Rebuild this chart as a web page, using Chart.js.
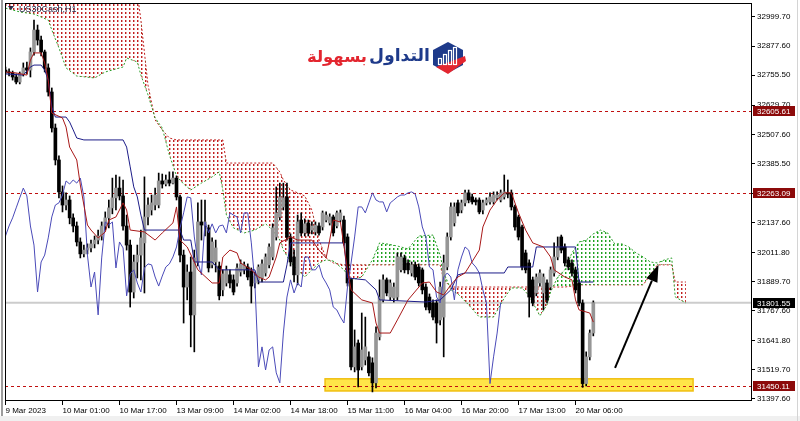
<!DOCTYPE html>
<html>
<head>
<meta charset="utf-8">
<script src="https://cdn.jsdelivr.net/npm/chart.js@4.4.1/dist/chart.umd.min.js"></script>
<style>
  html, body { margin: 0; padding: 0; background: #fff; }
  #wrap { width: 800px; height: 421px; position: relative; }
</style>
</head>
<body>
<div id="wrap"><canvas id="c" width="800" height="421"></canvas></div>
<script>
// ******************************************************** DATA  (US30Cash H1)

var barOpen = [
  32777,32769,32765,32748,32727,32761,32786,32777,32853,32945,
  32903,32853,32786,32685,32534,32400,32266,32211,32232,32157,
  32123,32056,32006,32022,32031,32048,32064,32081,32123,32157,
  32199,32241,32282,32249,32123,32043,31846,31972,32001,32052,
  32161,32190,32211,32211,32312,32299,32316,32303,32324,32245,
  32001,31867,31930,31750,31972,32140,32127,32115,31960,31972,
  31955,31855,31884,31918,31897,31884,31930,31939,31951,31934,
  31884,31897,31905,31926,31960,31993,32077,32161,32203,32245,
  32077,31993,31918,32148,32094,32136,32106,32098,32123,32119,
  32148,32136,32161,32123,32148,32148,32077,31897,31532,31632,
  31532,31561,31574,31549,31465,31658,31813,31897,31825,31821,
  31825,31939,31989,31968,31926,31960,31951,31939,31867,31825,
  31800,31800,31729,31741,31951,32077,32136,32220,32190,32220,
  32262,32245,32232,32232,32190,32220,32224,32224,32241,32232,
  32245,32262,32262,32203,32161,32119,32010,31968,31897,31842,
  31884,31842,31884,31867,31926,31993,32077,32035,31981,31968,
  31939,31884,31800,31462,31574,31674
];
var barHigh = [
  32790,32782,32773,32761,32769,32807,32811,32870,32987,32966,
  32920,32861,32803,32702,32551,32417,32291,32262,32249,32174,
  32140,32073,32043,32048,32064,32081,32106,32140,32182,32232,
  32324,32337,32329,32316,32169,32064,32001,32043,32106,32329,
  32241,32253,32282,32345,32341,32337,32350,32350,32333,32253,
  32022,31960,31993,32022,32220,32232,32232,32127,32073,32064,
  31972,31939,31955,31939,31918,31964,31981,31972,31964,31947,
  31930,31960,31981,32006,32048,32132,32287,32303,32303,32303,
  32090,32022,32169,32178,32153,32148,32140,32140,32136,32186,
  32182,32174,32169,32186,32190,32165,32090,31905,31687,31645,
  31758,31741,31595,31570,31700,31897,31918,31905,31897,31884,
  32010,32010,32001,31981,31972,31972,31964,31947,31880,31838,
  31813,31813,31888,32001,32094,32220,32220,32232,32232,32274,
  32274,32257,32241,32241,32232,32241,32262,32266,32266,32274,
  32337,32316,32274,32211,32169,32127,32022,31981,31909,31922,
  31939,31922,31897,31951,32052,32077,32085,32048,31993,31981,
  31951,31897,31813,31595,31687,31809
];
var barLow = [
  32761,32752,32735,32719,32719,32752,32761,32748,32840,32882,
  32836,32769,32668,32517,32379,32241,32182,32190,32132,32098,
  32039,31989,31993,32006,32014,32031,32048,32064,32106,32115,
  32174,32190,32232,32106,32022,31783,31821,31905,31897,31842,
  32127,32169,32190,32199,32282,32291,32291,32299,32232,31972,
  31716,31813,31616,31595,31955,32064,32081,31930,31947,31930,
  31813,31830,31871,31863,31834,31871,31913,31922,31897,31800,
  31863,31880,31888,31913,31947,31981,32064,32148,32190,32064,
  31955,31888,31876,32081,32081,32081,32090,32085,32085,32106,
  32140,32127,32081,32115,32140,32043,31871,31519,31511,31448,
  31519,31540,31494,31427,31444,31645,31804,31830,31813,31804,
  31813,31930,31926,31922,31913,31897,31871,31838,31771,31758,
  31729,31632,31708,31574,31939,32064,32123,32165,32178,32207,
  32220,32215,32211,32174,32174,32211,32215,32215,32232,32224,
  32236,32241,32190,32106,32064,31939,31926,31741,31788,31830,
  31871,31771,31800,31855,31913,31981,32010,31955,31939,31913,
  31842,31788,31446,31452,31561,31662
];
var barClose = [
  32769,32765,32748,32727,32761,32786,32777,32853,32945,32903,
  32853,32786,32685,32534,32400,32266,32211,32232,32157,32123,
  32056,32006,32022,32031,32048,32064,32081,32123,32157,32199,
  32241,32282,32249,32123,32043,31846,31972,32001,32073,32161,
  32211,32220,32253,32312,32299,32316,32303,32324,32245,32001,
  31867,31930,31750,31989,32140,32127,32140,31947,32056,32031,
  31830,31922,31939,31884,31846,31947,31964,31960,31909,31871,
  31913,31951,31964,31993,32035,32115,32178,32245,32241,32077,
  31972,31918,32140,32094,32132,32094,32123,32127,32094,32178,
  32169,32161,32094,32178,32178,32052,31884,31532,31616,31519,
  31603,31616,31507,31465,31674,31825,31897,31842,31884,31867,
  31993,31993,31939,31939,31960,31909,31884,31855,31783,31771,
  31741,31716,31867,31968,32077,32203,32203,32178,32220,32262,
  32232,32224,32224,32182,32220,32232,32245,32253,32253,32262,
  32266,32257,32203,32119,32077,31951,31939,31825,31800,31909,
  31926,31909,31813,31939,31993,32035,32022,31968,31951,31926,
  31855,31800,31462,31574,31674,31801.55
];

// Ichimoku lines: [bar index, price]
var tenkan = [
  [0,32769],[3,32765],[6,32756],[7,32819],[8,32849],[10,32849],[11,32807],[12,32735],[13,32597],
  [16,32576],[17,32538],[18,32454],[20,32400],[21,32295],[22,32211],[23,32127],[24,32106],
  [26,32073],[28,32098],[29,32148],[31,32161],[33,32220],[34,32190],[35,32106],[39,32098],
  [42,32064],[44,32094],[47,32136],[48,32203],[49,32064],[51,32035],[53,31972],[54,31939],
  [58,31884],[60,31884],[61,31993],[63,32022],[65,32010],[66,31968],[69,31939],[71,31909],
  [73,31897],[74,31909],[76,31993],[77,32052],[80,32077],[82,32064],[86,32064],[88,32022],
  [90,31989],[91,32064],[92,32148],[94,32140],[96,31939],[97,31855],[100,31813],[103,31800],
  [104,31716],[105,31674],[108,31674],[110,31729],[113,31813],[117,31884],[119,31888],
  [121,31846],[123,31834],[125,31876],[127,31909],[129,31926],[133,32022],[134,32119],
  [136,32190],[138,32232],[140,32262],[142,32262],[144,32178],[146,32106],[148,32052],
  [151,32035],[153,31993],[154,31939],[157,31909],[159,31897],[160,31813],[161,31771],
  [164,31758],[165,31720]
];
var kijun = [
  [0,32761],[5,32756],[7,32790],[8,32798],[10,32798],[11,32777],[12,32735],[13,32622],
  [14,32580],[17,32580],[18,32559],[19,32526],[20,32492],[22,32484],[33,32484],[34,32454],
  [35,32371],[36,32287],[37,32245],[38,32169],[39,32106],[49,32106],[50,32064],[52,32064],
  [53,31972],[58,31972],[60,31939],[70,31939],[71,31888],[78,31888],[79,31960],[80,32052],
  [95,32052],[96,31905],[101,31897],[104,31855],[105,31813],[118,31804],[122,31813],
  [125,31855],[127,31918],[129,31926],[140,31926],[141,31951],[148,31951],[149,32035],
  [160,32035],[161,31888],[165,31888]
];
var chikouShift = 26;

var cloudIdx = [
  0,4,8,12,13,15,17,20,25,28, 33,34,37,38,40,42,44,46,48,50,
  52,55,58,60,61,62,64,67,70,73, 75,77,78,80,82,84,86,88,90,92,
  95,97,100,103,105,107,110,113,116,120, 122,123,125,127,130,133,137,140,142,145,
  147,150,152,153,155,157,159,161,163,165, 167,169,171,173,175,177,179,181,183,185,
  187,188,191
];
var senkouA = [
  33037,33021,33012,32987,32945,32870,32786,32752,32744,32769,
  32790,32828,32811,32756,32673,32576,32534,32421,32333,32299,
  32274,32303,32329,32350,32274,32169,32115,32094,32106,32132,
  32106,32064,32022,31972,31939,31909,31939,31968,31981,31976,
  31939,31897,31909,31981,32052,32048,32039,32027,32081,32085,
  32001,31930,31855,31838,31792,31741,31741,31821,31863,31863,
  31830,31746,31792,31846,31909,31939,32010,32056,32064,32090,
  32106,32094,32048,32048,32035,32010,31993,31972,31968,31981,
  31989,31825,31800
];
var senkouB = [
  33100,33100,33100,33100,33100,33100,33100,33100,33100,33100,
  33100,33100,33100,32987,32714,32568,32526,32492,32484,32484,
  32484,32484,32484,32484,32484,32387,32387,32387,32387,32387,
  32387,32350,32316,32274,32262,32249,32190,32064,31989,31968,
  31960,31960,31960,31960,31960,31960,31960,31960,31960,31960,
  31960,31897,31867,31867,31867,31867,31867,31867,31867,31867,
  31867,31867,31867,31867,31867,31867,31871,31876,31876,31876,
  31876,31876,31876,31876,31876,31876,31876,31918,31960,31960,
  31960,31888,31888
];

var xTickIdx = [0,16,32,48,64,80,96,112,128,144,160];
var xTickLabels = ['9 Mar 2023','10 Mar 01:00','10 Mar 17:00','13 Mar 09:00','14 Mar 02:00',
  '14 Mar 18:00','15 Mar 11:00','16 Mar 04:00','16 Mar 20:00','17 Mar 13:00','20 Mar 06:00'];
var yTicks = [32999.70,32877.60,32755.50,32629.70,32507.60,32385.50,32259.70,32137.60,
  32011.80,31889.70,31767.60,31641.80,31519.70,31397.60];

var levelPrices = [32605.61, 32263.09, 31450.11];
var lastPrice = 31801.55;
var zone = [89.7, 193.0, 31431, 31482];          // from bar, to bar, low, high
var arrowFrom = [171.1, 31528], arrowTo = [183.3, 31960];

// ******************************************************** CHART

Chart.defaults.font.family = '"Liberation Sans", Arial, sans-serif';

var canvas = document.getElementById('c');
var ctx = canvas.getContext('2d');

// MT4-like dotted hatch for the cloud
function hatch(color, soft) {
  var p = document.createElement('canvas');
  p.width = 4; p.height = 4;
  var g = p.getContext('2d');
  g.fillStyle = color;
  g.fillRect(1, 0, 1, 2);
  g.fillStyle = soft;
  g.fillRect(2, 0, 1, 2);
  return ctx.createPattern(p, 'repeat');
}
function pts(pairs) { return pairs.map(function (p) { return { x: p[0], y: p[1] }; }); }

var wickData = barHigh.map(function (h, i) { return { x: i, y: [barLow[i], h] }; });
var bodyData = barOpen.map(function (o, i) { return { x: i, y: [o, barClose[i]] }; });
var bodyColors = barOpen.map(function (o, i) { return barClose[i] >= o ? '#969696' : '#000000'; });
var chikouData = barClose.slice(chikouShift).map(function (c, k) { return { x: k, y: c }; });
var spanA = cloudIdx.map(function (x, i) { return { x: x, y: senkouA[i] }; });
var spanB = cloudIdx.map(function (x, i) { return { x: x, y: senkouB[i] }; });

var overlay = {
  id: 'overlay',
  beforeDatasetsDraw: function (chart) {
    var c = chart.ctx, xs = chart.scales.x, ys = chart.scales.y, a = chart.chartArea;
    c.save();
    c.beginPath(); c.rect(a.left, a.top, a.right - a.left, a.bottom - a.top); c.clip();
    var x1 = xs.getPixelForValue(zone[0]), x2 = xs.getPixelForValue(zone[1]);
    var y1 = ys.getPixelForValue(zone[3]), y2 = ys.getPixelForValue(zone[2]);
    c.fillStyle = '#ffe548';
    c.fillRect(x1, y1, x2 - x1, y2 - y1);
    c.strokeStyle = '#f0bf10'; c.lineWidth = 1.5;
    c.strokeRect(x1, y1, x2 - x1, y2 - y1);
    var yp = ys.getPixelForValue(lastPrice);
    c.strokeStyle = '#cccccc'; c.lineWidth = 2;
    c.beginPath(); c.moveTo(a.left, yp); c.lineTo(a.right, yp); c.stroke();
    c.strokeStyle = '#c01010'; c.lineWidth = 1; c.setLineDash([3, 3]);
    levelPrices.forEach(function (v) {
      var y = Math.round(ys.getPixelForValue(v)) + 0.5;
      c.beginPath(); c.moveTo(a.left, y); c.lineTo(a.right, y); c.stroke();
    });
    c.restore();
  },
  afterDraw: function (chart) {
    var c = chart.ctx, xs = chart.scales.x, ys = chart.scales.y, a = chart.chartArea;
    c.save();
    // window edges
    c.fillStyle = '#9c9c9c'; c.fillRect(1, 0, 2, 421);
    c.fillStyle = '#f0f0f0'; c.fillRect(0, 416, 800, 5);
    c.fillStyle = '#d4d4d4'; c.fillRect(797, 0, 1, 421);
    // frame
    c.strokeStyle = '#000'; c.lineWidth = 1;
    c.strokeRect(a.left + 0.5, a.top + 0.5, a.right - a.left - 1, a.bottom - a.top - 1);

    // price tags on the axis
    function tag(v, bg) {
      var y = ys.getPixelForValue(v);
      c.fillStyle = bg;
      c.fillRect(a.right + 1, Math.round(y) - 5, 42, 10);
      c.fillStyle = '#fff';
      c.font = '8px "Liberation Sans"';
      c.textBaseline = 'middle'; c.textAlign = 'left';
      c.fillText(v.toFixed(2), a.right + 5, Math.round(y) + 0.5);
    }
    levelPrices.forEach(function (v) { tag(v, '#8c0a0a'); });
    tag(lastPrice, '#000');

    // arrow
    var p0x = xs.getPixelForValue(arrowFrom[0]), p0y = ys.getPixelForValue(arrowFrom[1]);
    var p1x = xs.getPixelForValue(arrowTo[0]), p1y = ys.getPixelForValue(arrowTo[1]);
    var ang = Math.atan2(p1y - p0y, p1x - p0x), hl = 17, hw = 6;
    var bx = p1x - hl * Math.cos(ang), by = p1y - hl * Math.sin(ang);
    c.strokeStyle = '#000'; c.lineWidth = 2;
    c.beginPath(); c.moveTo(p0x, p0y); c.lineTo(bx, by); c.stroke();
    c.fillStyle = '#000';
    c.beginPath(); c.moveTo(p1x, p1y);
    c.lineTo(bx + hw * Math.sin(ang), by - hw * Math.cos(ang));
    c.lineTo(bx - hw * Math.sin(ang), by + hw * Math.cos(ang));
    c.closePath(); c.fill();

    // symbol caption
    c.fillStyle = '#2a2a48';
    c.beginPath(); c.moveTo(8, 6); c.lineTo(14, 6); c.lineTo(11, 10); c.closePath(); c.fill();
    c.font = '9px "Liberation Sans"'; c.textBaseline = 'alphabetic'; c.textAlign = 'left';
    c.fillText('US30Cash,H1', 19, 12);

    // logo
    c.fillStyle = '#1e3a8a';
    c.beginPath();
    c.moveTo(448, 42); c.lineTo(463, 50); c.lineTo(463, 65); c.lineTo(448, 73);
    c.lineTo(433, 65); c.lineTo(433, 50); c.closePath(); c.fill();
    c.fillStyle = '#e3262f';
    c.beginPath(); c.moveTo(436, 67); c.lineTo(465, 56); c.lineTo(466, 61); c.lineTo(448, 74); c.closePath(); c.fill();
    c.strokeStyle = '#fff'; c.lineWidth = 1.2;
    [[438, 58], [443, 54], [448, 50], [453, 47]].forEach(function (b) {
      c.strokeRect(b[0] + 0.5, b[1] + 0.5, 3, 64 - b[1]);
    });
    c.textBaseline = 'alphabetic'; c.textAlign = 'right';
    c.font = 'bold 20px "DejaVu Sans"';
    var wBlue = c.measureText('التداول').width;
    var fs = Math.min(22, 20 * 61 / wBlue);
    c.font = 'bold ' + fs.toFixed(1) + 'px "DejaVu Sans"';
    c.fillStyle = '#1e3a8a'; c.fillText('التداول', 430, 61);
    var wRed = c.measureText('بسهولة').width;
    c.font = 'bold ' + Math.min(22, fs * 60 / wRed).toFixed(1) + 'px "DejaVu Sans"';
    c.fillStyle = '#e3262f'; c.fillText('بسهولة', 367, 62);
    c.restore();
  }
};

var chart = new Chart(ctx, {
  type: 'bar',
  data: {
    datasets: [
      { type: 'line', data: pts(tenkan), borderColor: '#a81818', borderWidth: 1, pointRadius: 0, fill: false, order: 0 },
      { type: 'line', data: pts(kijun), borderColor: '#1c1c88', borderWidth: 1, pointRadius: 0, fill: false, order: 0 },
      { type: 'line', data: chikouData, borderColor: '#4a4ab8', borderWidth: 1, pointRadius: 0, fill: false, order: 0 },
      { type: 'bar', data: bodyData, backgroundColor: bodyColors, barThickness: 3, minBarLength: 1, grouped: false, borderWidth: 0, order: 1 },
      { type: 'bar', data: wickData, backgroundColor: '#000', barThickness: 1, grouped: false, borderWidth: 0, order: 2 },
      { type: 'line', data: spanA, borderColor: '#2ca02c', borderWidth: 1, borderDash: [2, 2], pointRadius: 0,
        fill: { target: '+1', above: hatch('#1fa01f', 'rgba(40,170,40,0.45)'), below: hatch('#c02020', 'rgba(200,40,40,0.45)') }, order: 3 },
      { type: 'line', data: spanB, borderColor: '#c02020', borderWidth: 1, borderDash: [2, 2], pointRadius: 0, fill: false, order: 3 }
    ]
  },
  options: {
    responsive: false,
    animation: false,
    events: [],
    layout: { padding: { left: 5, top: 3, right: 0, bottom: 0 } },
    plugins: { legend: { display: false }, tooltip: { enabled: false } },
    scales: {
      x: {
        type: 'linear', min: -0.14, max: 209.54, offset: false,
        grid: { display: true, drawOnChartArea: false, tickLength: 4, color: '#000', offset: false },
        border: { display: false },
        ticks: {
          autoSkip: false, maxRotation: 0, minRotation: 0, align: 'start', padding: 1,
          color: '#000', font: { size: 8 },
          callback: function (v) { var k = xTickIdx.indexOf(v); return k >= 0 ? xTickLabels[k] : ''; }
        },
        afterBuildTicks: function (s) { s.ticks = xTickIdx.map(function (v) { return { value: v }; }); },
        afterFit: function (s) { s.height = 20; s.paddingLeft = 0; s.paddingRight = 0; }
      },
      y: {
        type: 'linear', position: 'right', min: 31388.9, max: 33058.4,
        grid: { display: true, drawOnChartArea: false, tickLength: 3, color: '#000' },
        border: { display: false },
        ticks: {
          padding: 2, color: '#000', font: { size: 8 },
          callback: function (v) { return Number(v).toFixed(2); }
        },
        afterBuildTicks: function (s) { s.ticks = yTicks.map(function (v) { return { value: v }; }); },
        afterFit: function (s) { s.width = 48; s.paddingTop = 0; s.paddingBottom = 0; }
      }
    }
  },
  plugins: [overlay]
});
</script>
</body>
</html>
